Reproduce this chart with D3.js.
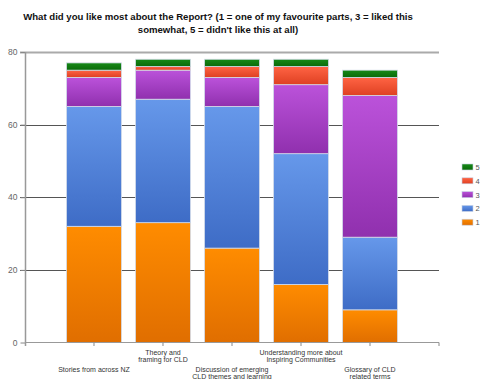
<!DOCTYPE html>
<html><head><meta charset="utf-8">
<script src="https://cdn.jsdelivr.net/npm/d3@7"></script>
<style>body{margin:0;background:#fff;overflow:hidden}svg{display:block}</style>
</head><body>
<script>
const categories = [
  ["Stories from across NZ"],
  ["Theory and", "framing for CLD"],
  ["Discussion of emerging", "CLD themes and learning"],
  ["Understanding more about", "Inspiring Communities"],
  ["Glossary of CLD", "related terms"]
];
const seriesNames = ["1", "2", "3", "4", "5"];
const v1 = [32, 33, 26, 16, 9];
const v2 = [33, 34, 39, 36, 20];
const v3 = [8, 8, 8, 19, 39];
const v4 = [2, 1, 3, 5, 5];
const v5 = [2, 2, 2, 2, 2];
const yTicks = [0, 20, 40, 60, 80];
const titleLines = ["What did you like most about the Report? (1 = one of my favourite parts, 3 = liked this", "somewhat, 5 = didn't like this at all)"];
const colors = [
  ["#ff8c00", "#e06e00"],
  ["#6698ea", "#3e6cc6"],
  ["#bb52da", "#9030ae"],
  ["#ff6444", "#de4022"],
  ["#178a17", "#0a6a0a"]
];

const W = 482, H = 379;
const svg = d3.select("body").append("svg").attr("width", W).attr("height", H);
const defs = svg.append("defs");
colors.forEach((c, i) => {
  const g = defs.append("linearGradient").attr("id", "g" + i).attr("x1", 0).attr("y1", 0).attr("x2", 0).attr("y2", 1);
  g.append("stop").attr("offset", "0%").attr("stop-color", c[0]);
  g.append("stop").attr("offset", "100%").attr("stop-color", c[1]);
});

const keys = categories.map((c, i) => i);
const x = d3.scaleBand().domain(keys).range([59.5, 404.5]).paddingInner(0.2029).paddingOuter(0.1014);
const y = d3.scaleLinear().domain([0, 80]).range([342.5, 52]);

// title
svg.append("g").selectAll("text").data(titleLines).join("text")
  .attr("x", 218).attr("y", (d, i) => 20 + i * 12.5)
  .attr("text-anchor", "middle").attr("font-family", "Liberation Sans, Arial, sans-serif")
  .attr("font-weight", "bold").attr("font-size", 9.6).attr("fill", "#111").text(d => d);

// gridlines
const grid = svg.append("g");
yTicks.forEach(t => {
  if (t === 0) return;
  grid.append("line").attr("x1", 20).attr("x2", 439).attr("y1", Math.round(y(t)) + 0.5).attr("y2", Math.round(y(t)) + 0.5)
    .attr("stroke", t === 80 ? "#aaa" : "#555").attr("stroke-width", t === 80 ? 2 : 1);
});

// y axis
const yAxis = svg.append("g").attr("transform", "translate(25.5,0)")
  .call(d3.axisLeft(y).tickValues(yTicks).tickSize(5).tickPadding(3));
yAxis.select(".domain").remove();
yAxis.selectAll(".tick line").attr("stroke", "#888");
yAxis.selectAll("text").attr("font-family", "Liberation Sans, Arial, sans-serif").attr("font-size", 8.5).attr("fill", "#666");
svg.append("line").attr("x1", 25.5).attr("x2", 25.5).attr("y1", 52).attr("y2", 346).attr("stroke", "#999").attr("stroke-width", 1.5);

// stacked bars
const rows = keys.map(i => ({ i, "1": v1[i], "2": v2[i], "3": v3[i], "4": v4[i], "5": v5[i] }));
const stack = d3.stack().keys(seriesNames)(rows);
svg.append("g").selectAll("g").data(stack).join("g")
  .attr("fill", (d, i) => `url(#g${i})`)
  .selectAll("rect").data(d => d).join("rect")
  .attr("x", d => x(d.data.i)).attr("width", x.bandwidth())
  .attr("y", d => y(d[1])).attr("height", d => y(d[0]) - y(d[1]))
  .attr("stroke", "#d4dcea").attr("stroke-width", 0.8);

// x axis
const xa = svg.append("g").attr("transform", "translate(0,342.5)");
xa.append("line").attr("x1", 25).attr("x2", 439).attr("stroke", "#999").attr("stroke-width", 1.2);
const tickXs = keys.map(k => x(k) + x.bandwidth() / 2).concat([x(4) + x.bandwidth() / 2 + x.step()]);
xa.selectAll("line.t").data(tickXs).join("line").attr("class", "t")
  .attr("x1", d => d).attr("x2", d => d).attr("y1", 0).attr("y2", 3.5).attr("stroke", "#888");

// x labels (staggered)
const labelG = svg.append("g").attr("font-family", "Liberation Sans, Arial, sans-serif")
  .attr("font-size", 7).attr("fill", "#333").attr("text-anchor", "middle");
categories.forEach((lines, i) => {
  const baseY = (i % 2 === 0) ? 371.5 : 355;
  lines.forEach((ln, j) => {
    labelG.append("text").attr("x", x(i) + x.bandwidth() / 2).attr("y", baseY + j * 7).text(ln);
  });
});

// legend
const legend = svg.append("g");
const legOrder = [4, 3, 2, 1, 0];
legOrder.forEach((si, k) => {
  const cy = 167 + k * 13.8;
  legend.append("rect").attr("x", 462).attr("y", cy - 3).attr("width", 11).attr("height", 6)
    .attr("fill", `url(#g${si})`).attr("stroke", "#c8d2e4").attr("stroke-width", 0.6);
  legend.append("text").attr("x", 475.5).attr("y", cy + 3).attr("font-family", "Liberation Sans, Arial, sans-serif")
    .attr("font-size", 7.5).attr("fill", "#555").text(seriesNames[si]);
});
</script>
</body></html>
